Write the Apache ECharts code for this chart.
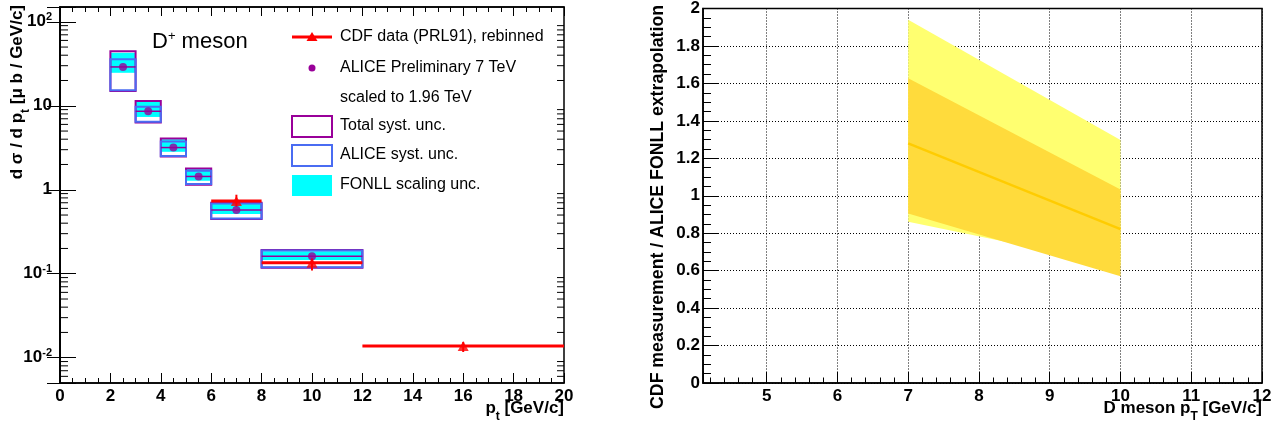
<!DOCTYPE html>
<html><head><meta charset="utf-8">
<script src="https://cdn.jsdelivr.net/npm/echarts@6/dist/echarts.min.js"></script>
<style>html,body{margin:0;padding:0;background:#fff}#c{width:1284px;height:428px}</style>
</head><body><div id="c"></div>
<script>
// ---------- Left panel: D+ cross section ----------
const binLo        = [2, 3, 4, 5, 6, 8];
const binHi        = [3, 4, 5, 6, 8, 12];
const aliceCenter  = [2.5, 3.5, 4.5, 5.5, 7, 10];
const aliceValue   = [29.0, 8.6, 3.18, 1.44, 0.575, 0.161];
const totalSystLo  = [15.0, 6.3, 2.49, 1.15, 0.449, 0.1175];
const totalSystHi  = [44.7, 11.4, 4.07, 1.79, 0.70, 0.192];
const aliceSystLo  = [15.3, 6.47, 2.53, 1.17, 0.456, 0.1195];
const aliceSystHi  = [35.7, 9.76, 3.75, 1.68, 0.688, 0.189];
const fonllLo      = [24.7, 7.36, 2.83, 1.28, 0.515, 0.146];
const fonllHi      = [42.7, 11.25, 4.0, 1.76, 0.676, 0.185];

const cdfLo     = [6, 8, 12];
const cdfHi     = [8, 12, 20];
const cdfCenter = [7, 10, 16];
const cdfValue  = [0.734, 0.1347, 0.01377];
const cdfErrLo  = [0.628, 0.109, 0.01169];
const cdfErrHi  = [0.873, 0.152, 0.01535];

const legendLabels = ['CDF data (PRL91), rebinned', 'ALICE Preliminary 7 TeV', 'scaled to 1.96 TeV',
                      'Total syst. unc.', 'ALICE syst. unc.', 'FONLL scaling unc.'];

// ---------- Right panel: ratio ----------
const ratioX       = [7, 10];
const ratioCentral = [1.28, 0.822];
const lightBandHi  = [1.94, 1.298];
const lightBandLo  = [0.861, 0.628];
const darkBandHi   = [1.628, 1.034];
const darkBandLo   = [0.905, 0.570];

const FONT = "'Liberation Sans', Arial, Helvetica, sans-serif";
const PURPLE = '#990099', BLUE = '#4a6cf2', CYAN = '#00ffff', RED = '#ff0000';

// log-axis minor tick values (axis decoration)
const logMinor = [];
for (let k = -3; k <= 2; k++) for (let m = 2; m <= 9; m++) {
  const v = m * Math.pow(10, k);
  if (v > 0.005 && v < 150) logMinor.push([0, v]);
}

const boxData = (lo, hi) => binLo.map((l, i) => [l, binHi[i], lo[i], hi[i]]);
function rectItem(api, style) {
  const p1 = api.coord([api.value(0), api.value(3)]);
  const p2 = api.coord([api.value(1), api.value(2)]);
  return { type: 'rect', shape: { x: p1[0], y: p1[1], width: p2[0] - p1[0], height: p2[1] - p1[1] }, style };
}
function bandPoly(api, lo, hi, fill) {
  const pts = ratioX.map((x, i) => api.coord([x, hi[i]]));
  for (let i = ratioX.length - 1; i >= 0; i--) pts.push(api.coord([ratioX[i], lo[i]]));
  return { type: 'polygon', shape: { points: pts }, style: { fill } };
}

const labelStyle = { color: '#000', fontFamily: FONT, fontWeight: 'bold', fontSize: 17 };
const logFmt = v => {
  const l = Math.log10(v), e = Math.round(l);
  if (Math.abs(l - e) > 1e-6) return '';
  if (e === 0) return '1';
  if (e === 1) return '10';
  return '10{sup|' + e + '}';
};
const subRich = { sub: { fontFamily: FONT, fontWeight: 'bold', fontSize: 12, padding: [17, 0, 0, 0] } };

const option = {
  animation: false,
  backgroundColor: '#fff',
  grid: [
    { left: 60, top: 7, width: 504, height: 376, show: true, borderColor: '#000', borderWidth: 1.5 },
    { left: 703, top: 5, width: 559, height: 378, show: true, borderColor: '#000', borderWidth: 1.5 }
  ],
  xAxis: [
    { gridIndex: 0, type: 'value', min: 0, max: 20, interval: 2, position: 'bottom',
      axisLine: { show: true, lineStyle: { color: '#000', width: 1.5 } },
      axisTick: { show: true, inside: true, length: 10, lineStyle: { color: '#000' } },
      minorTick: { show: true, splitNumber: 4, length: 5, lineStyle: { color: '#000' } },
      axisLabel: Object.assign({ margin: 5 }, labelStyle), splitLine: { show: false } },
    { gridIndex: 0, type: 'value', min: 0, max: 20, interval: 2, position: 'top',
      axisLine: { show: true, lineStyle: { color: '#000', width: 1.5 } },
      axisTick: { show: true, inside: true, length: 9, lineStyle: { color: '#000' } },
      minorTick: { show: true, splitNumber: 4, length: 5, lineStyle: { color: '#000' } },
      axisLabel: { show: false }, splitLine: { show: false } },
    { gridIndex: 1, type: 'value', min: 4.1, max: 12, minInterval: 1, maxInterval: 1, position: 'bottom',
      axisLine: { show: true, lineStyle: { color: '#000', width: 1.5 } },
      axisTick: { show: true, inside: true, length: 11, lineStyle: { color: '#000' } },
      minorTick: { show: true, splitNumber: 5, length: 5.5, lineStyle: { color: '#000' } },
      axisLabel: Object.assign({ margin: 5, formatter: v => Math.abs(v - Math.round(v)) < 1e-6 ? String(Math.round(v)) : '' }, labelStyle),
      splitLine: { show: true, lineStyle: { color: '#000', width: 1, type: [1, 2] } } }
  ],
  yAxis: [
    { gridIndex: 0, type: 'log', logBase: 10, min: 0.005, max: 150, position: 'left',
      axisLine: { show: true, lineStyle: { color: '#000', width: 1.5 } },
      axisTick: { show: true, inside: true, length: 16, lineStyle: { color: '#000' } },
      axisLabel: Object.assign({ margin: 8, formatter: logFmt,
        rich: { sup: { fontSize: 11, fontWeight: 'bold', fontFamily: FONT, color: '#000', verticalAlign: 'top', padding: [0, 0, 10, 0] } } }, labelStyle),
      splitLine: { show: false } },
    { gridIndex: 0, type: 'log', logBase: 10, min: 0.005, max: 150, position: 'right',
      axisLine: { show: true, lineStyle: { color: '#000', width: 1.5 } },
      axisTick: { show: true, inside: true, length: 13, lineStyle: { color: '#000' } },
      axisLabel: { show: false }, splitLine: { show: false } },
    { gridIndex: 1, type: 'value', min: 0, max: 2, interval: 0.2, position: 'left',
      axisLine: { show: true, lineStyle: { color: '#000', width: 1.5 } },
      axisTick: { show: true, inside: true, length: 16, lineStyle: { color: '#000' } },
      minorTick: { show: true, splitNumber: 4, length: 8, lineStyle: { color: '#000' } },
      axisLabel: Object.assign({ margin: 3 }, labelStyle),
      splitLine: { show: true, lineStyle: { color: '#000', width: 1, type: [1, 2] } } }
  ],
  series: [
    { type: 'custom', xAxisIndex: 0, yAxisIndex: 0, encode: { x: [0, 1], y: [2, 3] }, silent: true,
      data: boxData(fonllLo, fonllHi),
      renderItem: (p, api) => rectItem(api, { fill: CYAN }) },
    { type: 'custom', xAxisIndex: 0, yAxisIndex: 0, encode: { x: [0, 1], y: [2, 3] }, silent: true,
      data: boxData(totalSystLo, totalSystHi),
      renderItem: (p, api) => rectItem(api, { fill: 'none', stroke: PURPLE, lineWidth: 2 }) },
    { type: 'custom', xAxisIndex: 0, yAxisIndex: 0, encode: { x: [0, 1], y: [2, 3] }, silent: true,
      data: boxData(aliceSystLo, aliceSystHi),
      renderItem: (p, api) => rectItem(api, { fill: 'none', stroke: BLUE, lineWidth: 2 }) },
    { type: 'custom', xAxisIndex: 0, yAxisIndex: 0, encode: { x: [0, 1], y: 2 }, silent: true,
      data: binLo.map((l, i) => [l, binHi[i], aliceValue[i]]),
      renderItem: (p, api) => {
        const a = api.coord([api.value(0), api.value(2)]), b = api.coord([api.value(1), api.value(2)]);
        return { type: 'line', shape: { x1: a[0], y1: a[1], x2: b[0], y2: b[1] }, style: { stroke: PURPLE, lineWidth: 1.5 } };
      } },
    { type: 'scatter', xAxisIndex: 0, yAxisIndex: 0, symbol: 'circle', symbolSize: 8, silent: true,
      itemStyle: { color: PURPLE }, data: aliceCenter.map((x, i) => [x, aliceValue[i]]) },
    { type: 'custom', xAxisIndex: 0, yAxisIndex: 0, encode: { x: [0, 1, 5], y: [2, 3, 4] }, silent: true,
      data: cdfLo.map((l, i) => [l, cdfHi[i], cdfValue[i], cdfErrLo[i], cdfErrHi[i], cdfCenter[i]]),
      renderItem: (p, api) => {
        const a = api.coord([api.value(0), api.value(2)]), b = api.coord([api.value(1), api.value(2)]);
        const c = api.coord([api.value(5), api.value(3)]), d = api.coord([api.value(5), api.value(4)]);
        return { type: 'group', children: [
          { type: 'line', shape: { x1: a[0], y1: a[1], x2: b[0], y2: b[1] }, style: { stroke: RED, lineWidth: 3 } },
          { type: 'line', shape: { x1: c[0], y1: c[1], x2: d[0], y2: d[1] }, style: { stroke: RED, lineWidth: 2 } }
        ] };
      } },
    { type: 'scatter', xAxisIndex: 0, yAxisIndex: 0, symbol: 'triangle', symbolSize: [11, 10], silent: true,
      itemStyle: { color: RED }, data: cdfCenter.map((x, i) => [x, cdfValue[i]]) },
    { type: 'custom', xAxisIndex: 0, yAxisIndex: 0, encode: { x: 0, y: 1 }, silent: true, data: logMinor,
      renderItem: (p, api) => {
        const cs = p.coordSys, y = api.coord([0, api.value(1)])[1];
        return { type: 'group', children: [
          { type: 'line', shape: { x1: cs.x, y1: y, x2: cs.x + 8, y2: y }, style: { stroke: '#000', lineWidth: 1 } },
          { type: 'line', shape: { x1: cs.x + cs.width, y1: y, x2: cs.x + cs.width - 7, y2: y }, style: { stroke: '#000', lineWidth: 1 } }
        ] };
      } },
    // right panel
    { type: 'custom', xAxisIndex: 2, yAxisIndex: 2, encode: { x: 0, y: 1 }, silent: true, data: [[ratioX[0], lightBandHi[0]]],
      renderItem: (p, api) => bandPoly(api, lightBandLo, lightBandHi, '#ffff70') },
    { type: 'custom', xAxisIndex: 2, yAxisIndex: 2, encode: { x: 0, y: 1 }, silent: true, data: [[ratioX[0], darkBandHi[0]]],
      renderItem: (p, api) => bandPoly(api, darkBandLo, darkBandHi, '#ffdb3c') },
    { type: 'line', xAxisIndex: 2, yAxisIndex: 2, showSymbol: false, silent: true,
      lineStyle: { color: '#ffcc00', width: 2.5 }, data: ratioX.map((x, i) => [x, ratioCentral[i]]) }
  ],
  graphic: [
    // axis titles
    { type: 'text', x: 564, y: 408, style: { text: 'p{sub|t} [GeV/c]', fontFamily: FONT, fontWeight: 'bold', fontSize: 17, fill: '#000', align: 'right', verticalAlign: 'middle', rich: subRich } },
    { type: 'text', x: 17, y: 5, rotation: Math.PI / 2, style: { text: 'd σ / d p{sub|t} [μ b / GeV/c]', fontFamily: FONT, fontWeight: 'bold', fontSize: 17, fill: '#000', align: 'right', verticalAlign: 'middle', rich: subRich } },
    { type: 'text', x: 1262, y: 408, style: { text: 'D meson p{sub|T} [GeV/c]', fontFamily: FONT, fontWeight: 'bold', fontSize: 17, fill: '#000', align: 'right', verticalAlign: 'middle', rich: subRich } },
    { type: 'text', x: 658, y: 5, rotation: Math.PI / 2, style: { text: 'CDF measurement / ALICE FONLL extrapolation', fontFamily: FONT, fontWeight: 'bold', fontSize: 17.7, fill: '#000', align: 'right', verticalAlign: 'middle' } },
    // D+ meson label
    { type: 'text', x: 152, y: 42, style: { text: 'D{sup|+} meson', fontFamily: FONT, fontSize: 22, fill: '#000', align: 'left', verticalAlign: 'middle',
      rich: { sup: { fontFamily: FONT, fontSize: 13, padding: [0, 0, 12, 0] } } } },
    // legend
    { type: 'line', shape: { x1: 292, y1: 37, x2: 332, y2: 37 }, style: { stroke: RED, lineWidth: 3 } },
    { type: 'polygon', shape: { points: [[312, 32], [317.5, 41], [306.5, 41]] }, style: { fill: RED } },
    { type: 'circle', shape: { cx: 312, cy: 68, r: 3.5 }, style: { fill: PURPLE } },
    { type: 'rect', shape: { x: 292, y: 116, width: 40, height: 21 }, style: { fill: 'none', stroke: PURPLE, lineWidth: 2 } },
    { type: 'rect', shape: { x: 292, y: 145, width: 40, height: 21 }, style: { fill: 'none', stroke: BLUE, lineWidth: 2 } },
    { type: 'rect', shape: { x: 292, y: 175, width: 40, height: 21 }, style: { fill: CYAN } },
    ...legendLabels.map((t, i) => ({ type: 'text', x: 340, y: [37, 68, 98, 126, 155, 185][i],
      style: { text: t, fontFamily: FONT, fontSize: 16, fill: '#000', align: 'left', verticalAlign: 'middle' } }))
  ]
};
const chart = echarts.init(document.getElementById('c'));
chart.setOption(option);
</script></body></html>
